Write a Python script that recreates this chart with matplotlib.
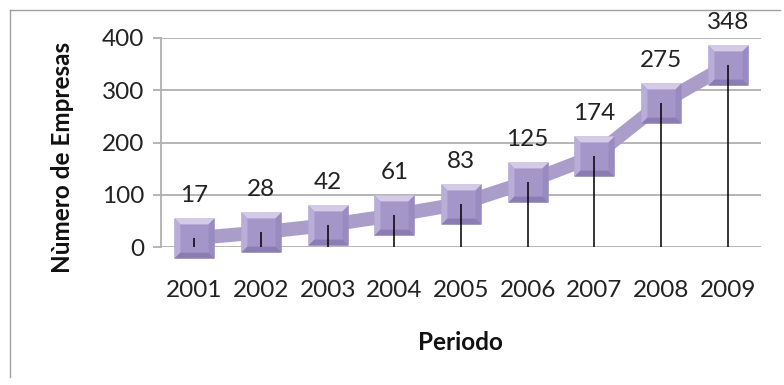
import matplotlib.pyplot as plt
from matplotlib.path import Path

# empresas por ano
anos = ['2001', '2002', '2003', '2004', '2005', '2006', '2007', '2008', '2009']
empresas = [17, 28, 42, 61, 83, 125, 174, 275, 348]
yticks = [0, 100, 200, 300, 400]

plt.rcParams['font.family'] = ['Lato', 'DejaVu Sans']

fig = plt.figure(figsize=(7.84, 3.85), dpi=100)
ax = fig.add_axes([0.2054, 0.3584, 0.7653, 0.5429])
x = list(range(len(anos)))

# moldura (so topo e esquerda)
fig.add_artist(plt.Line2D([0.013, 0.995], [0.974, 0.974], color='#a0a0a0', lw=1))
fig.add_artist(plt.Line2D([0.013, 0.013], [0.974, 0.02], color='#a0a0a0', lw=1))

for v in yticks:
    ax.axhline(v, color='#b0b0b0', lw=1.3, zorder=0)

ax.plot(x, empresas, color='#aa9dca', lw=10, solid_capstyle='butt', zorder=2)

# marcador chanfrado: quadrado base + faces
def trap(pts):
    return Path(pts + [pts[0]], [Path.MOVETO] + [Path.LINETO] * (len(pts) - 1) + [Path.CLOSEPOLY])

k = 0.7
faces = [
    ([(-1, -1), (1, -1), (1, 1), (-1, 1)], '#a596c9'),
    ([(-1, 1), (1, 1), (k, k), (-k, k)], '#d3cae6'),
    ([(-1, -1), (-1, 1), (-k, k), (-k, -k)], '#b9aed8'),
    ([(1, -1), (1, 1), (k, k), (k, -k)], '#998bc1'),
    ([(-1, -1), (1, -1), (k, -k), (-k, -k)], '#8b7db3'),
]
for pts, cor in faces:
    ax.plot(x, empresas, ls='none', marker=trap(pts), markersize=29,
            markerfacecolor=cor, markeredgecolor='none', zorder=3, clip_on=False)

# linhas de chamada
ax.vlines(x, 0, empresas, color='black', lw=1.1, zorder=4)

for xi, v in zip(x, empresas):
    ax.annotate(str(v), (xi, v), xytext=(0, 26), textcoords='offset points',
                ha='center', va='baseline', fontsize=17.5, color='#222222')

ax.set_xlim(-0.5, len(anos) - 0.5)
ax.set_ylim(0, 400)
ax.set_yticks(yticks)
ax.set_xticks(x)
ax.set_xticklabels(anos)
ax.tick_params(axis='x', length=0, pad=24, labelsize=17.5, labelcolor='#222222')
ax.tick_params(axis='y', length=6, width=1.3, color='#b0b0b0', pad=6, labelsize=17.5, labelcolor='#222222')
for s in ['top', 'right', 'bottom']:
    ax.spines[s].set_visible(False)
ax.spines['left'].set_color('#b0b0b0')
ax.spines['left'].set_linewidth(1.3)

fig.text(460 / 784, 0.091, 'Periodo', ha='center', va='baseline',
         fontsize=17.5, fontweight='bold', color='#111111')
fig.text(62 / 784, 0.592, 'Nùmero de Empresas', ha='center', va='center', rotation=90,
         fontsize=17.5, fontweight='bold', color='#111111')

fig.savefig('out.png', dpi=100)
